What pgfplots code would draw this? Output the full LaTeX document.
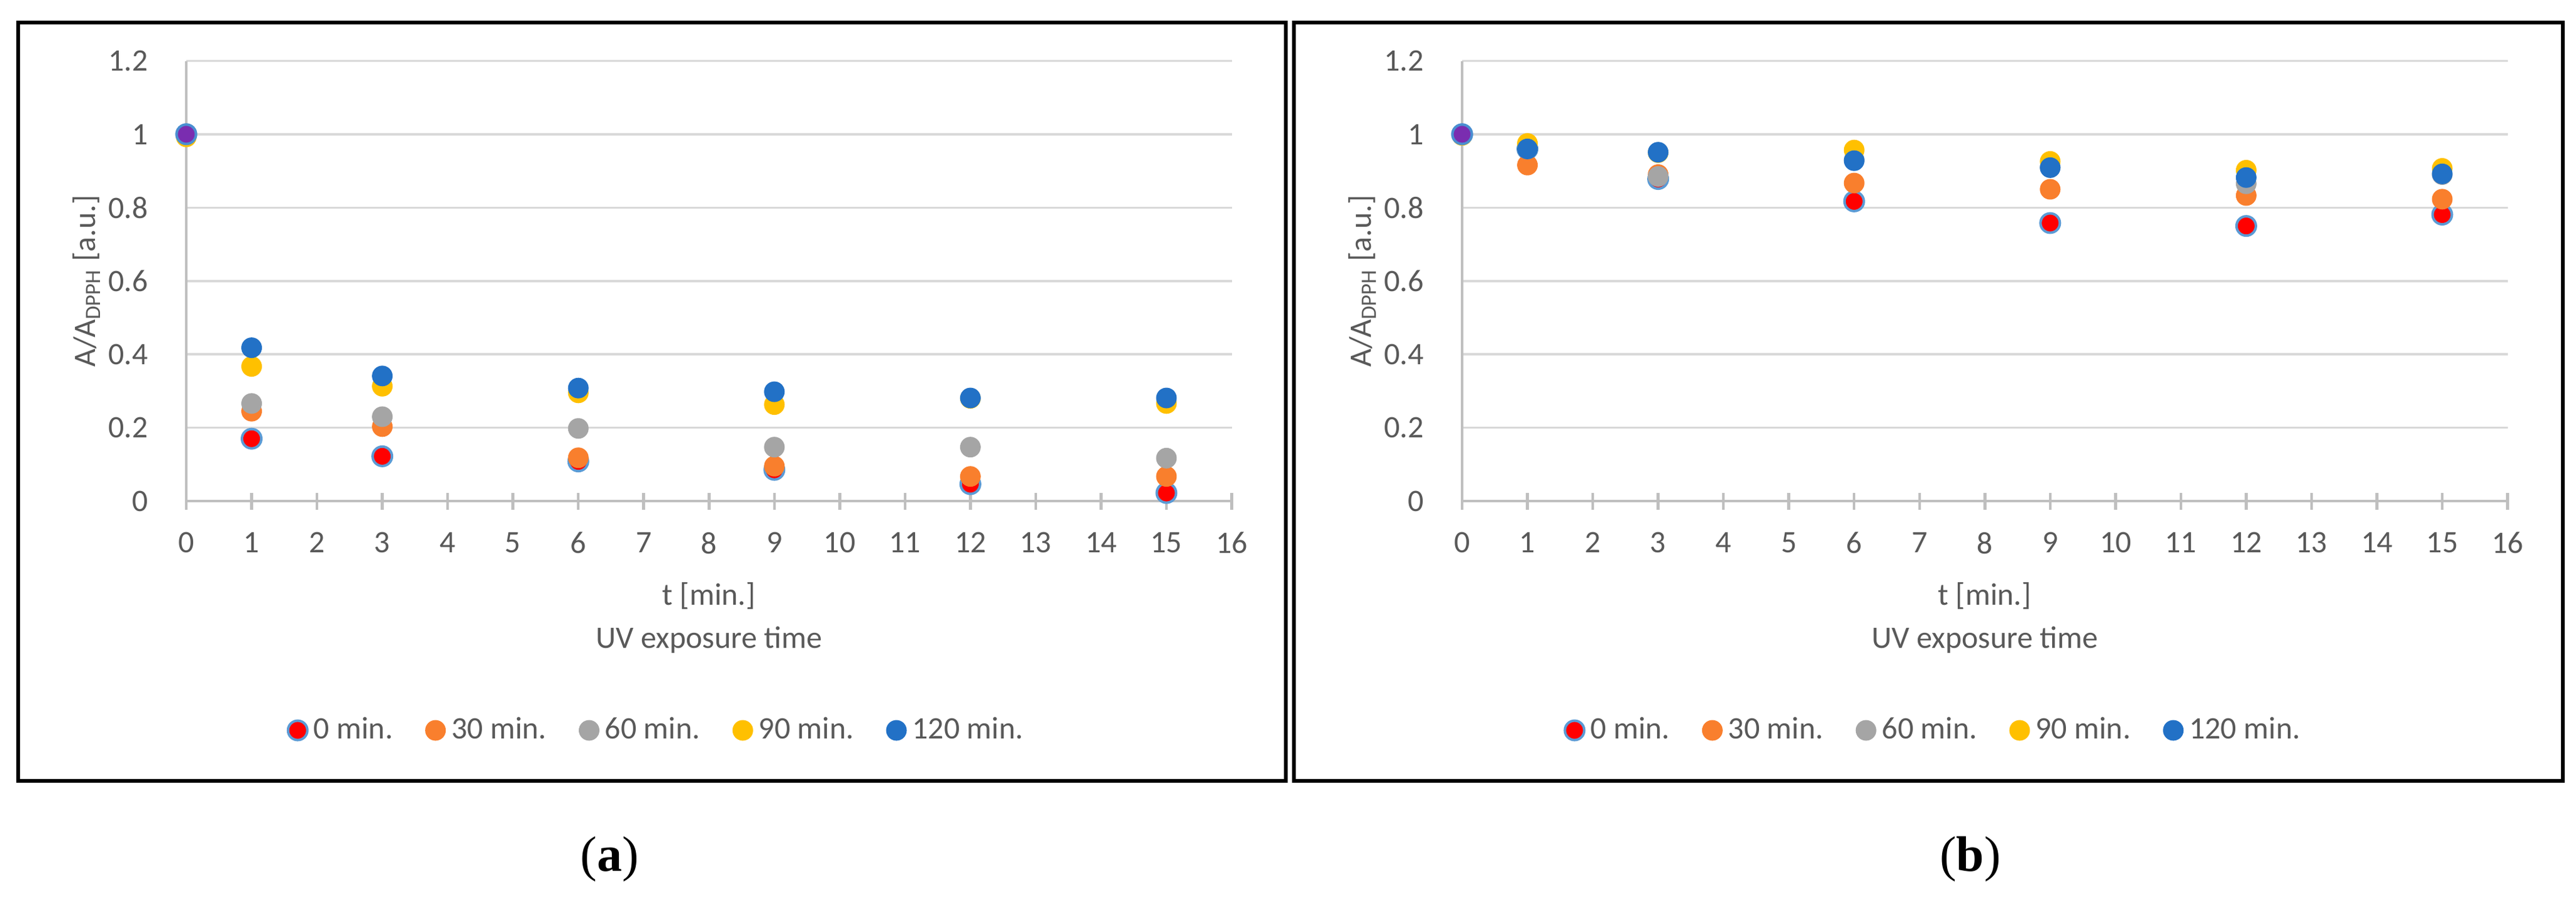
\documentclass[border=0pt]{standalone}
\usepackage{fontspec}
\setmainfont{Carlito}
\newfontfamily\capfont{Liberation Serif}
\usepackage{pgfplots}
\pgfplotsset{compat=1.18}

\definecolor{cRed}{HTML}{FF0000}
\definecolor{cEdge}{HTML}{5B9BD5}
\definecolor{cOrange}{HTML}{F97F2D}
\definecolor{cGray}{HTML}{A5A5A5}
\definecolor{cYellow}{HTML}{FFC000}
\definecolor{cBlue}{HTML}{2271C6}
\definecolor{cPurple}{HTML}{7A2DB0}
\definecolor{txt}{HTML}{595959}
\definecolor{gridc}{HTML}{D9D9D9}
\definecolor{axc}{HTML}{BFBFBF}

\pgfplotsset{
  panel/.style={
    scale only axis, width=334.5pt, height=140.9pt, anchor=south west,
    xmin=0, xmax=16, ymin=0, ymax=1.2, clip=false,
    xtick={0,...,16}, ytick={0,0.2,0.4,0.6,0.8,1,1.2},
    axis x line*=bottom, axis y line*=left,
    axis line style={axc, line width=0.9pt, -},
    ymajorgrids, major grid style={gridc, line width=0.7pt},
    xtick style={axc, line width=0.9pt}, major tick length=5.4pt, tick align=center,
    ytick style={draw=none},
    tick label style={font=\fontsize{10}{12}\selectfont, text=txt},
    /pgf/number format/assume math mode=true,
    yticklabel style={xshift=-6pt},
    xticklabel style={yshift=-3.8pt},
    xlabel={t [min.]\\UV exposure time},
    xlabel style={at={(axis description cs:0.5,-0.266)}, anchor=center, align=center,
      font=\fontsize{10}{13.8}\selectfont, text=txt},
    ylabel={A/A\textsubscript{DPPH} [a.u.]},
    ylabel style={at={(axis description cs:-0.0954,0.5)}, anchor=center,
      font=\fontsize{10}{12}\selectfont, text=txt},
    legend columns=5,
    legend style={draw=none, fill=none, font=\fontsize{10}{12}\selectfont, text=txt,
      anchor=center, /tikz/every even column/.append style={column sep=8.5pt}},
    legend image code/.code={\draw[#1] plot coordinates {(0pt,0pt)};},
  },
  dot/.style={only marks, mark=*, mark size=3.1pt},
  s0/.style={dot, mark options={fill=cRed, draw=cEdge, line width=0.8pt}},
  s30/.style={dot, mark options={fill=cOrange, draw=cOrange}},
  s60/.style={dot, mark options={fill=cGray, draw=cGray}},
  s90/.style={dot, mark options={fill=cYellow, draw=cYellow}},
  s120/.style={dot, mark options={fill=cBlue, draw=cBlue}},
  sref/.style={dot, mark options={fill=cPurple, draw=cEdge!70!cBlue, line width=0.8pt}},
}

\begin{document}
\begin{tikzpicture}
\useasboundingbox (0,0) rectangle (824.2pt,287.6pt);
\draw[line width=1.2pt] (5.8pt,37.6pt) rectangle (411.4pt,280.4pt);
\draw[line width=1.2pt] (414pt,37.6pt) rectangle (820pt,280.4pt);

% (a)
\begin{axis}[panel, at={(59.6pt,127.2pt)},
  legend style={at={(axis description cs:0.452,-0.521)}}]
\addplot[s0] coordinates {(0,1) (1,0.17) (3,0.122) (6,0.108) (9,0.085) (12,0.046) (15,0.022)};
\addlegendentry{0 min.}
\addplot[s30] coordinates {(0,1) (1,0.245) (3,0.203) (6,0.118) (9,0.095) (12,0.067) (15,0.067)};
\addlegendentry{30 min.}
\addplot[s60] coordinates {(0,1) (1,0.266) (3,0.23) (6,0.198) (9,0.147) (12,0.147) (15,0.117)};
\addlegendentry{60 min.}
\addplot[s90] coordinates {(0,0.993) (1,0.367) (3,0.313) (6,0.295) (9,0.263) (12,0.28) (15,0.266)};
\addlegendentry{90 min.}
\addplot[s120] coordinates {(0,1) (1,0.418) (3,0.341) (6,0.308) (9,0.298) (12,0.281) (15,0.281)};
\addlegendentry{120 min.}
\addplot[sref, forget plot] coordinates {(0,1)};
\end{axis}

% (b)
\begin{axis}[panel, at={(467.8pt,127.2pt)},
  legend style={at={(axis description cs:0.453,-0.521)}}]
\addplot[s0] coordinates {(0,1) (1,0.96) (3,0.878) (6,0.817) (9,0.758) (12,0.75) (15,0.781)};
\addlegendentry{0 min.}
\addplot[s30] coordinates {(0,1) (1,0.916) (3,0.89) (6,0.867) (9,0.85) (12,0.833) (15,0.823)};
\addlegendentry{30 min.}
\addplot[s60] coordinates {(0,1) (1,0.96) (3,0.885) (6,0.93) (9,0.91) (12,0.865) (15,0.89)};
\addlegendentry{60 min.}
\addplot[s90] coordinates {(0,0.997) (1,0.975) (3,0.95) (6,0.957) (9,0.926) (12,0.902) (15,0.907)};
\addlegendentry{90 min.}
\addplot[s120] coordinates {(0,1) (1,0.96) (3,0.951) (6,0.928) (9,0.909) (12,0.882) (15,0.892)};
\addlegendentry{120 min.}
\addplot[sref, forget plot] coordinates {(0,1)};
\end{axis}

\node[font=\capfont\fontsize{16}{16}\selectfont] at (195pt,12.6pt) {(\textbf{a})};
\node[font=\capfont\fontsize{16}{16}\selectfont] at (630.4pt,12.6pt) {(\textbf{b})};
\end{tikzpicture}
\end{document}
